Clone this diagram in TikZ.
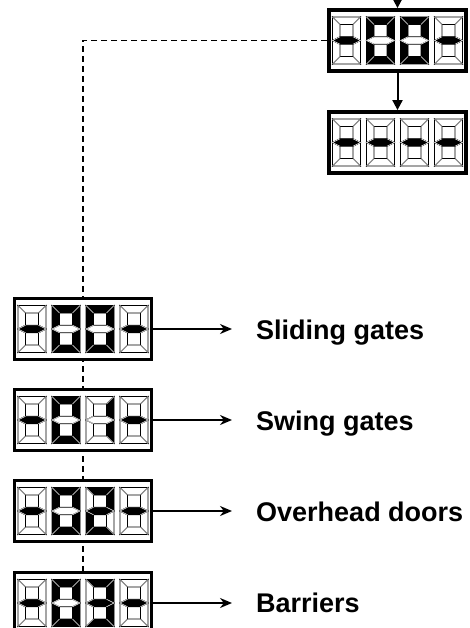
\documentclass[tikz,border=0pt]{standalone}
\usepackage{fontspec}
\setmainfont{Liberation Sans}
\usetikzlibrary{arrows.meta}
\tikzset{
  dispbox/.style={draw=black, fill=white, line width=3.8pt, minimum width=137pt, minimum height=61pt, inner sep=0pt},
  segoff/.style={fill=white, draw=black, line width=0.8pt},
  segon/.style={fill=black, draw=black, line width=0.8pt},
  sepline/.style={draw=white, line width=0.5pt},
  conn/.style={line width=2.2pt, -{Stealth[length=12pt,width=10pt]}},
  topconn/.style={line width=2pt, -{Triangle[length=10pt,width=10pt]}},
  dashconn/.style={line width=1.5pt, dash pattern=on 6pt off 4pt},
  lbl/.style={anchor=base west, inner sep=0pt, font=\fontsize{27}{30}\selectfont\bfseries}
}
% seven-segment digit: #1,#2 top-left; #3..#9 segments a..g (on/off)
\newcommand\segdigit[9]{%
  \begin{scope}[shift={(#1,#2)}]
    \path[seg#3] (0,0)--(28,0)--(20.5,7.5)--(7.5,7.5)--cycle;
    \path[seg#4] (28,0)--(28,23.5)--(20.5,19.75)--(20.5,7.5)--cycle;
    \path[seg#5] (28,23.5)--(28,47)--(20.5,39.5)--(20.5,27.25)--cycle;
    \path[seg#6] (0,47)--(7.5,39.5)--(20.5,39.5)--(28,47)--cycle;
    \path[seg#7] (0,23.5)--(7.5,27.25)--(7.5,39.5)--(0,47)--cycle;
    \path[seg#8] (0,0)--(7.5,7.5)--(7.5,19.75)--(0,23.5)--cycle;
    \path[seg#9] (0,23.5)--(7.5,19.75)--(20.5,19.75)--(28,23.5)--(20.5,27.25)--(7.5,27.25)--cycle;
    \path[sepline] (0,0)--(7.5,7.5) (28,0)--(20.5,7.5) (0,47)--(7.5,39.5) (28,47)--(20.5,39.5)
      (0,23.5)--(7.5,19.75) (0,23.5)--(7.5,27.25) (28,23.5)--(20.5,19.75) (28,23.5)--(20.5,27.25);
  \end{scope}}
\newcommand\ddash[2]{\segdigit{#1}{#2}{off}{off}{off}{off}{off}{off}{on}}
\newcommand\dzero[2]{\segdigit{#1}{#2}{on}{on}{on}{on}{on}{on}{off}}
\newcommand\done[2]{\segdigit{#1}{#2}{off}{on}{on}{off}{off}{off}{off}}
\newcommand\dtwo[2]{\segdigit{#1}{#2}{on}{on}{off}{on}{on}{off}{on}}
\newcommand\dthree[2]{\segdigit{#1}{#2}{on}{on}{on}{on}{off}{off}{on}}
% four digits centred at #1,#2
\newcommand\fourdig[6]{%
  #3{#1-65}{#2-23.5}%
  #4{#1-31}{#2-23.5}%
  #5{#1+3}{#2-23.5}%
  #6{#1+37}{#2-23.5}}
\begin{document}
\begin{tikzpicture}[x=1pt,y=-1pt]
\useasboundingbox (0,0) rectangle (470,628);
\coordinate (tin) at (397.5,0);
\coordinate (dend) at (83,632);
\node[dispbox] (b1) at (397.5,40.5) {};
\node[dispbox] (b2) at (397.5,142.5) {};
% dashed line behind the left displays
\draw[dashconn] (b1.west) -| (dend);
\node[dispbox] (s1) at (83,329) {};
\node[dispbox] (s2) at (83,420) {};
\node[dispbox] (s3) at (83,511) {};
\node[dispbox] (s4) at (83,603) {};
\fourdig{397.5}{40.5}{\ddash}{\dzero}{\dzero}{\ddash}
\fourdig{397.5}{142.5}{\ddash}{\ddash}{\ddash}{\ddash}
\fourdig{83}{329}{\ddash}{\dzero}{\dzero}{\ddash}
\fourdig{83}{420}{\ddash}{\dzero}{\done}{\ddash}
\fourdig{83}{511}{\ddash}{\dzero}{\dtwo}{\ddash}
\fourdig{83}{603}{\ddash}{\dzero}{\dthree}{\ddash}
\draw[topconn] (tin) -- (b1.north);
\draw[topconn] (b1.south) -- (b2.north);
\node[lbl] (l1) at (256,339) {Sliding gates};
\node[lbl] (l2) at (256,430) {Swing gates};
\node[lbl] (l3) at (256,521) {Overhead doors};
\node[lbl] (l4) at (256,612) {Barriers};
\draw[conn] (s1.east) -- ([xshift=-24pt]s1.east -| l1.west);
\draw[conn] (s2.east) -- ([xshift=-24pt]s2.east -| l2.west);
\draw[conn] (s3.east) -- ([xshift=-24pt]s3.east -| l3.west);
\draw[conn] (s4.east) -- ([xshift=-24pt]s4.east -| l4.west);
\end{tikzpicture}
\end{document}
